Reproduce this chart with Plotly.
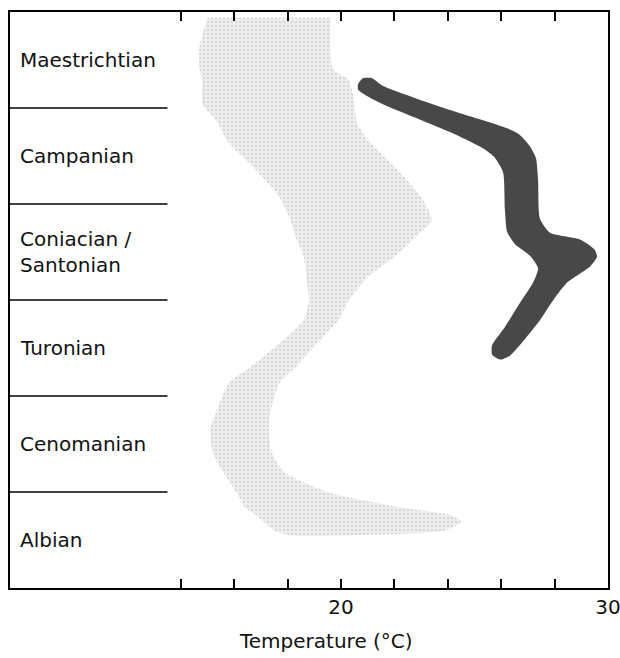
import plotly.graph_objects as go

# Stage names (bottom to top), each stage occupies one unit on the y axis
stages = ["Albian", "Cenomanian", "Turonian", "Coniacian /<br>Santonian", "Campanian", "Maestrichtian"]
stage_boundaries = [1, 2, 3, 4, 5]

# Light (stippled) band: stratigraphic level vs min / max temperature (°C)
light_level = [5.94, 5.64, 5.40, 5.29, 5.05, 4.84, 4.67, 4.39, 4.07, 3.83, 3.66, 3.45, 3.24,
               3.00, 2.79, 2.55, 2.30, 2.14, 1.89, 1.65, 1.41, 1.20, 0.99, 0.84, 0.76, 0.69, 0.60, 0.55]
light_tmin = [15.0, 14.7, 14.7, 14.8, 14.8, 15.4, 15.7, 16.7, 17.7, 18.1, 18.3, 18.6, 18.7,
              18.8, 18.6, 17.7, 16.6, 15.8, 15.4, 15.1, 15.2, 15.6, 16.1, 16.4, 16.8, 17.1, 17.5, 18.1]
light_tmax = [19.6, 19.6, 19.7, 20.3, 20.5, 20.6, 21.0, 22.0, 23.0, 23.4, 22.8, 22.0, 21.0,
              20.3, 19.9, 19.1, 18.3, 17.7, 17.4, 17.3, 17.4, 17.9, 19.6, 22.2, 24.1, 24.5, 23.9, 20.3]

# Dark band outline: temperature (°C) and stratigraphic level
dark_temp = [20.64, 20.82, 21.16, 21.57, 24.08, 25.58, 26.22, 26.70, 27.08, 27.30, 27.38, 27.45,
             27.83, 28.95, 29.48, 29.59, 29.33, 28.46, 27.90, 27.45, 26.70, 26.33, 25.96, 25.66,
             25.66, 26.14, 26.70, 27.19, 27.38, 27.08, 26.52, 26.22, 26.14, 26.07, 25.77, 25.32,
             24.08, 21.57, 20.94, 20.64]
dark_level = [5.25, 5.31, 5.31, 5.23, 4.98, 4.85, 4.79, 4.72, 4.60, 4.48, 4.25, 3.85,
              3.70, 3.63, 3.53, 3.45, 3.35, 3.18, 2.98, 2.79, 2.53, 2.42, 2.38, 2.43,
              2.53, 2.72, 2.97, 3.18, 3.33, 3.46, 3.58, 3.71, 3.94, 4.33, 4.48, 4.58,
              4.75, 5.04, 5.13, 5.19]

tick_vals = [14, 16, 18, 20, 22, 24, 26, 28, 30]
tick_text = ["", "", "", "20", "", "", "", "", "30"]
x_range = [7.6, 30]
FONT = "DejaVu Sans"

fig = go.Figure()

fig.add_trace(go.Scatter(
    x=light_tmin + light_tmax[::-1],
    y=light_level + light_level[::-1],
    fill="toself", mode="lines", line=dict(width=0, shape="spline", smoothing=0.6),
    fillcolor="#e6e6e6",
    fillpattern=dict(shape=".", size=4, solidity=0.3, fgcolor="#bcbcbc", bgcolor="#efefef"),
    hoverinfo="skip", showlegend=False))

fig.add_trace(go.Scatter(
    x=dark_temp + dark_temp[:1],
    y=dark_level + dark_level[:1],
    fill="toself", mode="lines", line=dict(width=0, shape="spline", smoothing=0.6),
    fillcolor="#484848",
    hoverinfo="skip", showlegend=False))

for b in stage_boundaries:
    fig.add_shape(type="line", xref="x", yref="y", x0=x_range[0], x1=13.5, y0=b, y1=b,
                  line=dict(color="black", width=1.5))

for i, name in enumerate(stages):
    fig.add_annotation(x=0.013, xref="paper", y=i + 0.5, yref="y", text=name,
                       showarrow=False, xanchor="left", yanchor="middle", align="left",
                       font=dict(family=FONT, size=20, color="#111"))

fig.add_annotation(x=0.528, xref="paper", y=-0.092, yref="paper", text="Temperature (°C)",
                   showarrow=False, xanchor="center", yanchor="middle",
                   font=dict(family=FONT, size=20, color="#111"))

fig.update_xaxes(range=x_range, tickvals=tick_vals, ticktext=tick_text,
                 ticks="inside", ticklen=9, tickwidth=1.5, tickcolor="black",
                 showline=True, linecolor="black", linewidth=2, mirror="allticks",
                 showgrid=False, zeroline=False, automargin=False,
                 ticklabeloverflow="allow",
                 tickfont=dict(family=FONT, size=20, color="#111"))
fig.update_yaxes(range=[0, 6], showticklabels=False, ticks="",
                 showline=True, linecolor="black", linewidth=2, mirror=True,
                 showgrid=False, zeroline=False, automargin=False)

fig.update_layout(width=620, height=658, margin=dict(l=10, r=12, t=12, b=70),
                  paper_bgcolor="white", plot_bgcolor="white")

# remove the default page margin so the figure fills the 620x658 window exactly
fig.write_html("out.html", config={"displayModeBar": False},
               post_script="document.body.style.margin='0';")
